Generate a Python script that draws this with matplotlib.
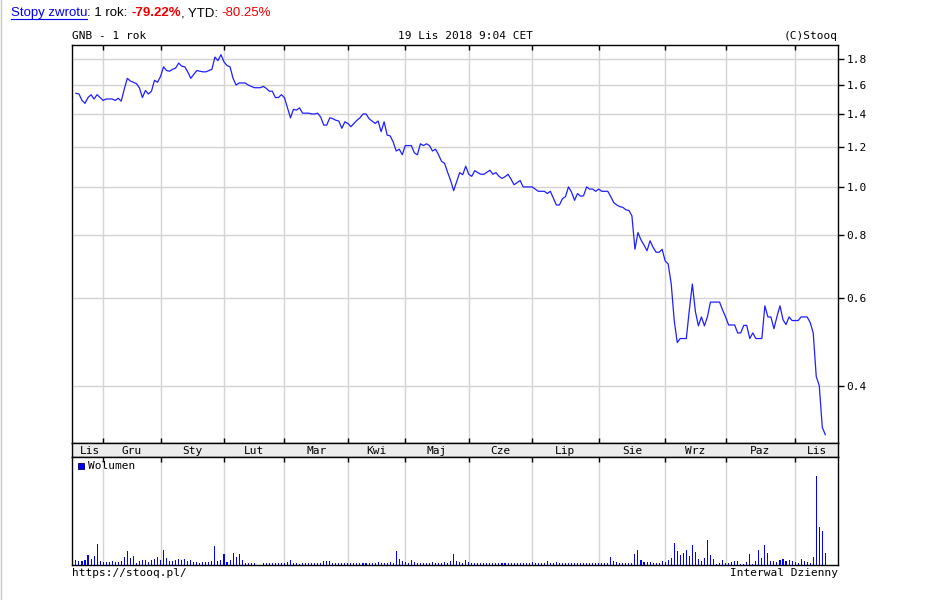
import matplotlib
matplotlib.use("Agg")
import matplotlib.pyplot as plt
from matplotlib.lines import Line2D
from matplotlib.ticker import NullLocator
import numpy as np

plt.rcParams['font.family'] = ['DejaVu Sans Mono']

# daily close prices (PLN), 20.11.2017 - 19.11.2018
prices = [
    1.54, 1.535, 1.49, 1.47, 1.51, 1.53, 1.50, 1.53, 1.51, 1.49,
    1.50, 1.50, 1.50, 1.49, 1.505, 1.485, 1.57, 1.65, 1.63, 1.62,
    1.61, 1.58, 1.51, 1.56, 1.535, 1.555, 1.635, 1.62, 1.665, 1.74,
    1.71, 1.705, 1.72, 1.73, 1.77, 1.745, 1.74, 1.70, 1.65, 1.68,
    1.71, 1.705, 1.70, 1.70, 1.71, 1.72, 1.82, 1.79, 1.84, 1.78,
    1.75, 1.74, 1.65, 1.60, 1.615, 1.615, 1.615, 1.60, 1.59, 1.58,
    1.58, 1.58, 1.59, 1.575, 1.555, 1.555, 1.51, 1.51, 1.53, 1.51,
    1.44, 1.375, 1.43, 1.425, 1.44, 1.405, 1.405, 1.405, 1.40, 1.40,
    1.405, 1.38, 1.33, 1.33, 1.375, 1.37, 1.36, 1.355, 1.31, 1.35,
    1.34, 1.32, 1.34, 1.36, 1.375, 1.40, 1.40, 1.37, 1.355, 1.34,
    1.355, 1.29, 1.35, 1.27, 1.265, 1.23, 1.18, 1.19, 1.16, 1.21,
    1.21, 1.21, 1.17, 1.16, 1.22, 1.21, 1.22, 1.21, 1.18, 1.19,
    1.16, 1.125, 1.115, 1.07, 1.03, 0.983, 1.025, 1.068, 1.058, 1.10,
    1.06, 1.05, 1.078, 1.068, 1.06, 1.06, 1.07, 1.08, 1.06, 1.068,
    1.05, 1.04, 1.048, 1.06, 1.036, 1.01, 1.02, 1.03, 1.0, 1.0,
    1.0, 1.0, 0.99, 0.98, 0.98, 0.98, 0.97, 0.98, 0.95, 0.92,
    0.92, 0.947, 0.956, 1.0, 0.977, 0.94, 0.97, 0.958, 0.96, 1.0,
    0.99, 0.99, 0.98, 0.99, 0.98, 0.98, 0.98, 0.956, 0.93, 0.92,
    0.913, 0.91, 0.90, 0.897, 0.875, 0.75, 0.81, 0.783, 0.765, 0.745,
    0.78, 0.757, 0.74, 0.74, 0.75, 0.711, 0.701, 0.64, 0.54, 0.488,
    0.497, 0.497, 0.497, 0.567, 0.639, 0.563, 0.527, 0.549, 0.527, 0.55,
    0.588, 0.588, 0.588, 0.588, 0.567, 0.549, 0.529, 0.529, 0.529, 0.51,
    0.51, 0.528, 0.528, 0.497, 0.51, 0.497, 0.497, 0.497, 0.578, 0.549,
    0.549, 0.52, 0.55, 0.578, 0.542, 0.53, 0.549, 0.54, 0.54, 0.54,
    0.549, 0.549, 0.549, 0.535, 0.51, 0.417, 0.40, 0.33, 0.319,
]

# daily volume (thousand shares, approx.)
volume = [
    50, 43, 43, 50, 100, 60, 90, 210, 40, 33,
    33, 33, 40, 33, 33, 40, 77, 140, 73, 90,
    23, 43, 50, 50, 33, 50, 60, 83, 50, 150,
    70, 40, 40, 50, 60, 50, 60, 40, 50, 33,
    33, 23, 33, 33, 33, 40, 190, 40, 50, 110,
    33, 50, 120, 80, 110, 50, 20, 20, 20, 15,
    0, 0, 15, 20, 15, 20, 20, 15, 20, 20,
    30, 50, 20, 15, 10, 15, 15, 15, 15, 15,
    15, 15, 40, 40, 40, 15, 15, 15, 15, 20,
    20, 20, 15, 15, 15, 15, 20, 15, 20, 15,
    30, 20, 15, 20, 30, 20, 140, 60, 40, 30,
    20, 50, 30, 20, 15, 20, 15, 20, 30, 20,
    20, 15, 30, 20, 40, 110, 40, 30, 20, 50,
    30, 20, 15, 20, 15, 15, 20, 15, 15, 20,
    15, 15, 15, 20, 15, 15, 15, 20, 15, 15,
    20, 30, 15, 15, 20, 15, 40, 20, 15, 30,
    20, 15, 15, 20, 15, 20, 15, 15, 20, 15,
    15, 20, 15, 15, 20, 15, 20, 83, 43, 33,
    17, 17, 17, 17, 17, 113, 153, 53, 33, 33,
    33, 23, 23, 23, 37, 27, 50, 67, 223, 143,
    103, 123, 153, 93, 203, 133, 63, 43, 73, 253,
    103, 63, 13, 23, 53, 23, 23, 33, 43, 43,
    13, 13, 33, 113, 13, 43, 153, 73, 203, 123,
    43, 43, 33, 53, 63, 43, 53, 43, 33, 23,
    63, 43, 33, 23, 83, 887, 377, 337, 123,
]

# index of first session of each month (Gru .. Lis)
month_starts = [9, 28, 49, 69, 90, 109, 130, 151, 173, 195, 215, 238]
month_names = ["Lis", "Gru", "Sty", "Lut", "Mar", "Kwi", "Maj", "Cze",
               "Lip", "Sie", "Wrz", "Paz", "Lis"]
price_ticks = [0.4, 0.6, 0.8, 1.0, 1.2, 1.4, 1.6, 1.8]

W, H = 925, 600
fig = plt.figure(figsize=(W / 100, H / 100), dpi=100)
fig.patch.set_facecolor("white")


def box(top, bottom):
    return [72 / W, 1 - bottom / H, (838 - 72) / W, (bottom - top) / H]


ax = fig.add_axes(box(45, 443))
band = fig.add_axes(box(443, 457))
axv = fig.add_axes(box(457, 565))

days = np.arange(len(prices))
xmin, xmax = -1.3, len(prices) + 3.2
grid_c = "#d4d4d4"

# --- price panel
for t in price_ticks:
    ax.axhline(t, color=grid_c, lw=1, zorder=0)
for m in month_starts:
    ax.axvline(m, color=grid_c, lw=1, zorder=0)
ax.plot(days, prices, color="#1f1fff", lw=0.9, zorder=3)
ax.set_yscale("log")
ax.set_ylim(0.307, 1.924)
ax.set_xlim(xmin, xmax)
ax.yaxis.tick_right()
ax.set_yticks(price_ticks)
ax.set_yticklabels(["%.1f" % t for t in price_ticks])
ax.yaxis.set_minor_locator(NullLocator())
ax.tick_params(axis="y", direction="out", length=4, width=1, labelsize=8, pad=2)
ax.set_xticks(month_starts)
ax.tick_params(axis="x", top=True, bottom=True, direction="in", length=3.5,
               width=1, labelbottom=False, labeltop=False)

# --- month band
band.set_facecolor("#ececec")
band.set_xlim(xmin, xmax)
band.set_ylim(0, 1)
band.set_xticks([])
band.set_yticks([])
bounds = [0] + month_starts + [xmax]
for name, a, b in zip(month_names, bounds[:-1], bounds[1:]):
    band.text((a + b) / 2, 0.45, name, ha="center", va="center", fontsize=8)

# --- volume panel
for m in month_starts:
    axv.axvline(m, color=grid_c, lw=1, zorder=0)
axv.bar(days, volume, width=0.35, color="#0000ff", linewidth=0, zorder=3)
axv.set_xlim(xmin, xmax)
axv.set_ylim(0, max(volume) * 108 / 89)
axv.set_yticks([])
axv.set_xticks(month_starts)
axv.tick_params(axis="x", top=True, bottom=False, direction="in", length=3.5,
                width=1, labelbottom=False, labeltop=False)
axv.plot([0.0115], [0.917], marker="s", ms=4.5, mfc="#0000ff", mec="#000060",
         mew=0.6, transform=axv.transAxes, zorder=5)
axv.text(0.021, 0.917, "Wolumen", transform=axv.transAxes, va="center",
         ha="left", fontsize=8)

for a in (ax, band, axv):
    for s in a.spines.values():
        s.set_linewidth(1)
        s.set_color("black")

# --- header / footer texts
fig.text(72 / W, 1 - 36 / H, "GNB - 1 rok", ha="left", va="center", fontsize=8)
fig.text(466 / W, 1 - 36 / H, "19 Lis 2018 9:04 CET", ha="center", va="center", fontsize=8)
fig.text(838 / W, 1 - 36 / H, "(C)Stooq", ha="right", va="center", fontsize=8)
fig.text(72 / W, 1 - 573 / H, "https://stooq.pl/", ha="left", va="center", fontsize=8)
fig.text(838 / W, 1 - 573 / H, "Interwal Dzienny", ha="right", va="center", fontsize=8)

renderer = fig.canvas.get_renderer()
pieces = [
    ("Stopy zwrotu", "#0000ee", "normal"),
    (": 1 rok: ", "black", "normal"),
    ("-79.22%", "#ee0000", "bold"),
    (", YTD: ", "black", "normal"),
    ("-80.25%", "#ee0000", "normal"),
]
x = 11 / W
y = 1 - 13 / H
for i, (txt, col, wt) in enumerate(pieces):
    t = fig.text(x, y, txt, color=col, fontsize=9.5, fontweight=wt,
                 family="Liberation Sans", ha="left", va="center")
    bb = t.get_window_extent(renderer)
    if i == 0:
        fig.add_artist(Line2D([bb.x0 / W, bb.x1 / W], [(bb.y0 + 0.5) / H] * 2,
                              color=col, lw=0.8, transform=fig.transFigure))
    x = bb.x1 / W

fig.add_artist(Line2D([0.6 / W, 0.6 / W], [0, 1], color="#c8c8c8", lw=1,
                      transform=fig.transFigure))

fig.savefig("out.png", dpi=100)
